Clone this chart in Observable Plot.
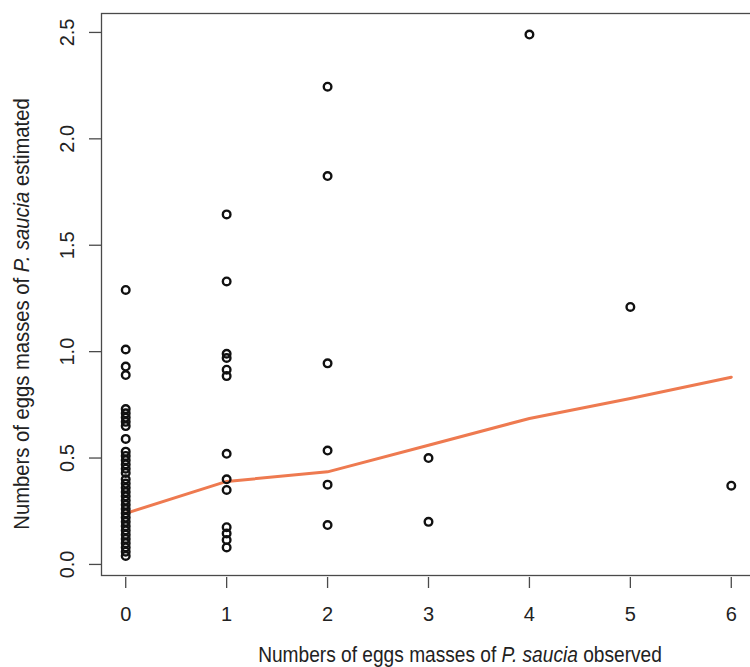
<!DOCTYPE html>
<html><head><meta charset="utf-8">
<script src="https://cdn.jsdelivr.net/npm/d3@7"></script>
<script src="https://cdn.jsdelivr.net/npm/@observablehq/plot@0.6"></script>
<style>
body{margin:0;background:#fff;overflow:hidden}
#chart svg{font-family:"Liberation Sans",Arial,sans-serif;}
</style>
</head><body><div id="chart"></div>
<script>
// Observed counts (x) and estimated values (y) grouped by observed count
const observedLevels = [0, 1, 2, 3, 4, 5, 6];
const estimatedAt0 = [1.29, 1.01, 0.93, 0.89, 0.73, 0.71, 0.69, 0.67, 0.65, 0.59, 0.53, 0.51, 0.49, 0.47, 0.45, 0.43,
  0.40, 0.38, 0.36, 0.34, 0.32, 0.30, 0.28, 0.26, 0.24, 0.22, 0.20, 0.18, 0.16, 0.14, 0.12, 0.10, 0.08, 0.06, 0.04];
const estimatedAt1 = [1.645, 1.33, 0.99, 0.97, 0.915, 0.885, 0.52, 0.40, 0.35, 0.175, 0.145, 0.115, 0.08];
const estimatedAt2 = [2.245, 1.825, 0.945, 0.535, 0.375, 0.185];
const estimatedAt3 = [0.50, 0.20];
const estimatedAt4 = [2.49];
const estimatedAt5 = [1.21];
const estimatedAt6 = [0.37];
// Smoothed trend (orange line) at each observed level
const trendValues = [0.24, 0.39, 0.435, 0.56, 0.686, 0.78, 0.88];
const xTicks = [0, 1, 2, 3, 4, 5, 6];
const yTicks = [0, 0.5, 1.0, 1.5, 2.0, 2.5];

const groups = [estimatedAt0, estimatedAt1, estimatedAt2, estimatedAt3, estimatedAt4, estimatedAt5, estimatedAt6];
const points = groups.flatMap((vals, i) => vals.map(v => ({x: observedLevels[i], y: v})));
const trend = observedLevels.map((x, i) => ({x, y: trendValues[i]}));

const FONT = 20;
const chart = Plot.plot({
  width: 750,
  height: 667,
  marginLeft: 101,
  marginRight: -5,
  marginTop: 13,
  marginBottom: 92,
  x: {domain: [-0.24, 6.24]},
  y: {domain: [-0.052, 2.589]},
  style: {background: "#fff", color: "#222"},
  marks: [
    Plot.frame({stroke: "#4a4a4a", strokeWidth: 1.3}),
    Plot.axisX({ticks: xTicks, tickSize: 11, dy: 2, tickPadding: 18, fontSize: FONT, label: null, stroke: "#4a4a4a", strokeWidth: 1.3, tickFormat: d => String(d)}),
    Plot.axisY({ticks: yTicks, tickSize: 12, label: null, stroke: "#4a4a4a", strokeWidth: 1.3, tickFormat: () => ""}),
    Plot.text(yTicks, {y: d => d, text: d => d3.format(".1f")(d), frameAnchor: "left", dx: -34, rotate: -90, textAnchor: "middle", fontSize: FONT, fill: "#222"}),
    Plot.line(trend, {x: "x", y: "y", stroke: "#EE7A50", strokeWidth: 3}),
    Plot.dot(points, {x: "x", y: "y", r: 3.8, stroke: "#111", strokeWidth: 2.4, fill: "none"})
  ]
});
document.getElementById("chart").appendChild(chart);

// Axis titles with italic species name (condensed look via horizontal scale)
const svg = d3.select(chart);
const xt = svg.append("text").attr("transform", "translate(460,662) scale(0.87,1)").attr("text-anchor", "middle")
  .attr("font-size", 22).attr("fill", "#222");
xt.append("tspan").text("Numbers of eggs masses of ");
xt.append("tspan").attr("font-style", "italic").text("P. saucia");
xt.append("tspan").text(" observed");

const yt = svg.append("text").attr("transform", "translate(29,314) rotate(-90) scale(0.92,1)").attr("text-anchor", "middle")
  .attr("font-size", 22).attr("fill", "#222");
yt.append("tspan").text("Numbers of eggs masses of ");
yt.append("tspan").attr("font-style", "italic").text("P. saucia");
yt.append("tspan").text(" estimated");
</script>
</body></html>
